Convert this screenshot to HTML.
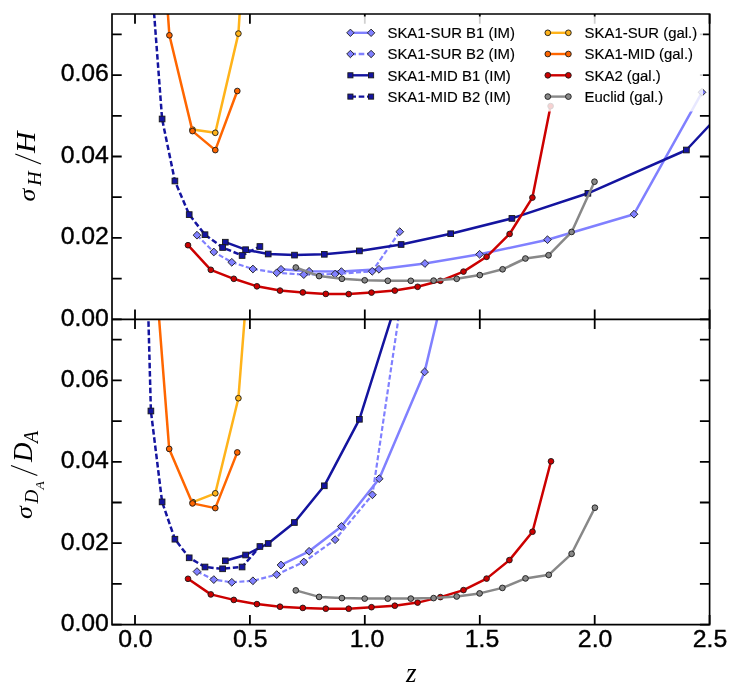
<!DOCTYPE html>
<html><head><meta charset="utf-8"><title>Chart</title>
<style>
html,body{margin:0;padding:0;background:#fff;}
body{width:747px;height:694px;overflow:hidden;font-family:"Liberation Sans",sans-serif;}
svg{display:block;will-change:transform;}
</style></head><body>
<svg width="747" height="694" viewBox="0 0 747 694">
<rect width="747" height="694" fill="#fff"/>
<defs>
<clipPath id="ct"><rect x="112.0" y="14.0" width="597.6" height="305.3"/></clipPath>
<clipPath id="cb"><rect x="112.0" y="319.3" width="597.6" height="305.3"/></clipPath>
</defs>
<g clip-path="url(#ct)">
<path d="M281.0 269.3L309.1 271.3L341.4 271.6L379.0 269.3L424.9 263.5L479.6 254.3L547.5 239.7L634.0 214.2L702.0 92.3" fill="none" stroke="#8080ff" stroke-width="2.5" stroke-linejoin="round"/>
<path d="M281.0 265.4L284.9 269.3L281.0 273.2L277.1 269.3Z" fill="#8080ff" stroke="#1a1a1a" stroke-width="0.9"/>
<path d="M309.1 267.4L313.0 271.3L309.1 275.2L305.2 271.3Z" fill="#8080ff" stroke="#1a1a1a" stroke-width="0.9"/>
<path d="M341.4 267.7L345.3 271.6L341.4 275.5L337.5 271.6Z" fill="#8080ff" stroke="#1a1a1a" stroke-width="0.9"/>
<path d="M379.0 265.4L382.9 269.3L379.0 273.2L375.1 269.3Z" fill="#8080ff" stroke="#1a1a1a" stroke-width="0.9"/>
<path d="M424.9 259.6L428.8 263.5L424.9 267.4L421.0 263.5Z" fill="#8080ff" stroke="#1a1a1a" stroke-width="0.9"/>
<path d="M479.6 250.4L483.5 254.3L479.6 258.2L475.7 254.3Z" fill="#8080ff" stroke="#1a1a1a" stroke-width="0.9"/>
<path d="M547.5 235.8L551.4 239.7L547.5 243.6L543.6 239.7Z" fill="#8080ff" stroke="#1a1a1a" stroke-width="0.9"/>
<path d="M634.0 210.3L637.9 214.2L634.0 218.1L630.1 214.2Z" fill="#8080ff" stroke="#1a1a1a" stroke-width="0.9"/>
<path d="M702.0 88.4L705.9 92.3L702.0 96.2L698.1 92.3Z" fill="#8080ff" stroke="#1a1a1a" stroke-width="0.9"/>
<path d="M197.0 235.2L213.8 252.0L231.8 262.3L252.9 269.0L276.7 272.8L303.8 274.6L335.1 274.1L372.2 271.3L399.8 231.7" fill="none" stroke="#8080ff" stroke-width="2.2" stroke-linejoin="round" stroke-dasharray="5.0 2.4"/>
<path d="M197.0 231.3L200.9 235.2L197.0 239.1L193.1 235.2Z" fill="#8080ff" stroke="#1a1a1a" stroke-width="0.9"/>
<path d="M213.8 248.1L217.7 252.0L213.8 255.9L209.9 252.0Z" fill="#8080ff" stroke="#1a1a1a" stroke-width="0.9"/>
<path d="M231.8 258.4L235.7 262.3L231.8 266.2L227.9 262.3Z" fill="#8080ff" stroke="#1a1a1a" stroke-width="0.9"/>
<path d="M252.9 265.1L256.8 269.0L252.9 272.9L249.0 269.0Z" fill="#8080ff" stroke="#1a1a1a" stroke-width="0.9"/>
<path d="M276.7 268.9L280.6 272.8L276.7 276.7L272.8 272.8Z" fill="#8080ff" stroke="#1a1a1a" stroke-width="0.9"/>
<path d="M303.8 270.7L307.7 274.6L303.8 278.5L299.9 274.6Z" fill="#8080ff" stroke="#1a1a1a" stroke-width="0.9"/>
<path d="M335.1 270.2L339.0 274.1L335.1 278.0L331.2 274.1Z" fill="#8080ff" stroke="#1a1a1a" stroke-width="0.9"/>
<path d="M372.2 267.4L376.1 271.3L372.2 275.2L368.3 271.3Z" fill="#8080ff" stroke="#1a1a1a" stroke-width="0.9"/>
<path d="M399.8 227.8L403.7 231.7L399.8 235.6L395.9 231.7Z" fill="#8080ff" stroke="#1a1a1a" stroke-width="0.9"/>
<path d="M225.3 242.2L245.6 249.7L268.2 254.0L294.5 255.1L324.3 254.3L359.4 250.9L401.1 244.5L450.7 233.7L511.9 218.4L587.9 193.3L686.4 150.0L801.5 27.0" fill="none" stroke="#14149f" stroke-width="2.5" stroke-linejoin="round"/>
<rect x="222.45" y="239.35" width="5.7" height="5.7" fill="#14149f" stroke="#1a1a1a" stroke-width="0.9"/>
<rect x="242.75" y="246.85" width="5.7" height="5.7" fill="#14149f" stroke="#1a1a1a" stroke-width="0.9"/>
<rect x="265.35" y="251.15" width="5.7" height="5.7" fill="#14149f" stroke="#1a1a1a" stroke-width="0.9"/>
<rect x="291.65" y="252.25" width="5.7" height="5.7" fill="#14149f" stroke="#1a1a1a" stroke-width="0.9"/>
<rect x="321.45" y="251.45" width="5.7" height="5.7" fill="#14149f" stroke="#1a1a1a" stroke-width="0.9"/>
<rect x="356.55" y="248.05" width="5.7" height="5.7" fill="#14149f" stroke="#1a1a1a" stroke-width="0.9"/>
<rect x="398.25" y="241.65" width="5.7" height="5.7" fill="#14149f" stroke="#1a1a1a" stroke-width="0.9"/>
<rect x="447.85" y="230.85" width="5.7" height="5.7" fill="#14149f" stroke="#1a1a1a" stroke-width="0.9"/>
<rect x="509.05" y="215.55" width="5.7" height="5.7" fill="#14149f" stroke="#1a1a1a" stroke-width="0.9"/>
<rect x="585.05" y="190.45" width="5.7" height="5.7" fill="#14149f" stroke="#1a1a1a" stroke-width="0.9"/>
<rect x="683.55" y="147.15" width="5.7" height="5.7" fill="#14149f" stroke="#1a1a1a" stroke-width="0.9"/>
<rect x="798.65" y="24.15" width="5.7" height="5.7" fill="#14149f" stroke="#1a1a1a" stroke-width="0.9"/>
<path d="M150.9 -28.7L162.1 119.0L174.9 181.0L189.2 214.6L205.0 234.7L222.6 247.5L242.1 255.5L259.9 246.5" fill="none" stroke="#14149f" stroke-width="2.5" stroke-linejoin="round" stroke-dasharray="5.6 2.7"/>
<rect x="148.05" y="-31.55" width="5.7" height="5.7" fill="#14149f" stroke="#1a1a1a" stroke-width="0.9"/>
<rect x="159.25" y="116.15" width="5.7" height="5.7" fill="#14149f" stroke="#1a1a1a" stroke-width="0.9"/>
<rect x="172.05" y="178.15" width="5.7" height="5.7" fill="#14149f" stroke="#1a1a1a" stroke-width="0.9"/>
<rect x="186.35" y="211.75" width="5.7" height="5.7" fill="#14149f" stroke="#1a1a1a" stroke-width="0.9"/>
<rect x="202.15" y="231.85" width="5.7" height="5.7" fill="#14149f" stroke="#1a1a1a" stroke-width="0.9"/>
<rect x="219.75" y="244.65" width="5.7" height="5.7" fill="#14149f" stroke="#1a1a1a" stroke-width="0.9"/>
<rect x="239.25" y="252.65" width="5.7" height="5.7" fill="#14149f" stroke="#1a1a1a" stroke-width="0.9"/>
<rect x="257.05" y="243.65" width="5.7" height="5.7" fill="#14149f" stroke="#1a1a1a" stroke-width="0.9"/>
<path d="M192.5 129.6L215.3 132.8L238.4 33.6L261.7 -339.0" fill="none" stroke="#ffb31a" stroke-width="2.5" stroke-linejoin="round"/>
<circle cx="192.5" cy="129.6" r="2.85" fill="#ffb31a" stroke="#1a1a1a" stroke-width="0.9"/>
<circle cx="215.3" cy="132.8" r="2.85" fill="#ffb31a" stroke="#1a1a1a" stroke-width="0.9"/>
<circle cx="238.4" cy="33.6" r="2.85" fill="#ffb31a" stroke="#1a1a1a" stroke-width="0.9"/>
<circle cx="261.7" cy="-339.0" r="2.85" fill="#ffb31a" stroke="#1a1a1a" stroke-width="0.9"/>
<path d="M146.9 -285.0L169.4 35.3L192.5 131.1L215.3 150.1L237.3 91.0" fill="none" stroke="#ff6600" stroke-width="2.5" stroke-linejoin="round"/>
<circle cx="146.9" cy="-285.0" r="2.85" fill="#ff6600" stroke="#1a1a1a" stroke-width="0.9"/>
<circle cx="169.4" cy="35.3" r="2.85" fill="#ff6600" stroke="#1a1a1a" stroke-width="0.9"/>
<circle cx="192.5" cy="131.1" r="2.85" fill="#ff6600" stroke="#1a1a1a" stroke-width="0.9"/>
<circle cx="215.3" cy="150.1" r="2.85" fill="#ff6600" stroke="#1a1a1a" stroke-width="0.9"/>
<circle cx="237.3" cy="91.0" r="2.85" fill="#ff6600" stroke="#1a1a1a" stroke-width="0.9"/>
<path d="M188.0 245.2L210.8 269.8L233.8 278.8L256.9 286.3L280.0 290.6L302.8 292.4L325.8 293.9L348.7 294.1L371.5 292.6L394.8 290.6L417.6 286.8L440.4 280.8L463.5 271.6L486.6 256.8L509.6 234.0L532.4 197.6L550.6 106.1" fill="none" stroke="#cc0000" stroke-width="2.5" stroke-linejoin="round"/>
<circle cx="188.0" cy="245.2" r="2.85" fill="#cc0000" stroke="#1a1a1a" stroke-width="0.9"/>
<circle cx="210.8" cy="269.8" r="2.85" fill="#cc0000" stroke="#1a1a1a" stroke-width="0.9"/>
<circle cx="233.8" cy="278.8" r="2.85" fill="#cc0000" stroke="#1a1a1a" stroke-width="0.9"/>
<circle cx="256.9" cy="286.3" r="2.85" fill="#cc0000" stroke="#1a1a1a" stroke-width="0.9"/>
<circle cx="280.0" cy="290.6" r="2.85" fill="#cc0000" stroke="#1a1a1a" stroke-width="0.9"/>
<circle cx="302.8" cy="292.4" r="2.85" fill="#cc0000" stroke="#1a1a1a" stroke-width="0.9"/>
<circle cx="325.8" cy="293.9" r="2.85" fill="#cc0000" stroke="#1a1a1a" stroke-width="0.9"/>
<circle cx="348.7" cy="294.1" r="2.85" fill="#cc0000" stroke="#1a1a1a" stroke-width="0.9"/>
<circle cx="371.5" cy="292.6" r="2.85" fill="#cc0000" stroke="#1a1a1a" stroke-width="0.9"/>
<circle cx="394.8" cy="290.6" r="2.85" fill="#cc0000" stroke="#1a1a1a" stroke-width="0.9"/>
<circle cx="417.6" cy="286.8" r="2.85" fill="#cc0000" stroke="#1a1a1a" stroke-width="0.9"/>
<circle cx="440.4" cy="280.8" r="2.85" fill="#cc0000" stroke="#1a1a1a" stroke-width="0.9"/>
<circle cx="463.5" cy="271.6" r="2.85" fill="#cc0000" stroke="#1a1a1a" stroke-width="0.9"/>
<circle cx="486.6" cy="256.8" r="2.85" fill="#cc0000" stroke="#1a1a1a" stroke-width="0.9"/>
<circle cx="509.6" cy="234.0" r="2.85" fill="#cc0000" stroke="#1a1a1a" stroke-width="0.9"/>
<circle cx="532.4" cy="197.6" r="2.85" fill="#cc0000" stroke="#1a1a1a" stroke-width="0.9"/>
<circle cx="550.6" cy="106.1" r="2.85" fill="#cc0000" stroke="#1a1a1a" stroke-width="0.9"/>
<path d="M295.8 267.5L319.1 276.1L341.9 278.8L364.7 280.3L387.8 280.8L410.8 280.8L433.6 280.6L456.7 278.8L479.8 275.1L502.6 269.3L525.4 258.5L548.5 255.3L571.6 231.9L594.5 181.7" fill="none" stroke="#888888" stroke-width="2.5" stroke-linejoin="round"/>
<circle cx="295.8" cy="267.5" r="2.85" fill="#888888" stroke="#1a1a1a" stroke-width="0.9"/>
<circle cx="319.1" cy="276.1" r="2.85" fill="#888888" stroke="#1a1a1a" stroke-width="0.9"/>
<circle cx="341.9" cy="278.8" r="2.85" fill="#888888" stroke="#1a1a1a" stroke-width="0.9"/>
<circle cx="364.7" cy="280.3" r="2.85" fill="#888888" stroke="#1a1a1a" stroke-width="0.9"/>
<circle cx="387.8" cy="280.8" r="2.85" fill="#888888" stroke="#1a1a1a" stroke-width="0.9"/>
<circle cx="410.8" cy="280.8" r="2.85" fill="#888888" stroke="#1a1a1a" stroke-width="0.9"/>
<circle cx="433.6" cy="280.6" r="2.85" fill="#888888" stroke="#1a1a1a" stroke-width="0.9"/>
<circle cx="456.7" cy="278.8" r="2.85" fill="#888888" stroke="#1a1a1a" stroke-width="0.9"/>
<circle cx="479.8" cy="275.1" r="2.85" fill="#888888" stroke="#1a1a1a" stroke-width="0.9"/>
<circle cx="502.6" cy="269.3" r="2.85" fill="#888888" stroke="#1a1a1a" stroke-width="0.9"/>
<circle cx="525.4" cy="258.5" r="2.85" fill="#888888" stroke="#1a1a1a" stroke-width="0.9"/>
<circle cx="548.5" cy="255.3" r="2.85" fill="#888888" stroke="#1a1a1a" stroke-width="0.9"/>
<circle cx="571.6" cy="231.9" r="2.85" fill="#888888" stroke="#1a1a1a" stroke-width="0.9"/>
<circle cx="594.5" cy="181.7" r="2.85" fill="#888888" stroke="#1a1a1a" stroke-width="0.9"/>
</g>
<g clip-path="url(#cb)">
<path d="M281.0 565.0L309.1 551.3L341.4 526.4L379.2 478.7L424.6 371.9L479.6 141.0" fill="none" stroke="#8080ff" stroke-width="2.5" stroke-linejoin="round"/>
<path d="M281.0 561.1L284.9 565.0L281.0 568.9L277.1 565.0Z" fill="#8080ff" stroke="#1a1a1a" stroke-width="0.9"/>
<path d="M309.1 547.4L313.0 551.3L309.1 555.2L305.2 551.3Z" fill="#8080ff" stroke="#1a1a1a" stroke-width="0.9"/>
<path d="M341.4 522.5L345.3 526.4L341.4 530.3L337.5 526.4Z" fill="#8080ff" stroke="#1a1a1a" stroke-width="0.9"/>
<path d="M379.2 474.8L383.1 478.7L379.2 482.6L375.3 478.7Z" fill="#8080ff" stroke="#1a1a1a" stroke-width="0.9"/>
<path d="M424.6 368.0L428.5 371.9L424.6 375.8L420.7 371.9Z" fill="#8080ff" stroke="#1a1a1a" stroke-width="0.9"/>
<path d="M479.6 137.1L483.5 141.0L479.6 144.9L475.7 141.0Z" fill="#8080ff" stroke="#1a1a1a" stroke-width="0.9"/>
<path d="M197.0 571.6L213.8 579.6L231.8 582.3L252.9 580.8L276.7 574.6L303.8 562.0L335.1 539.7L372.4 494.8L399.8 309.3" fill="none" stroke="#8080ff" stroke-width="2.2" stroke-linejoin="round" stroke-dasharray="5.0 2.4"/>
<path d="M197.0 567.7L200.9 571.6L197.0 575.5L193.1 571.6Z" fill="#8080ff" stroke="#1a1a1a" stroke-width="0.9"/>
<path d="M213.8 575.7L217.7 579.6L213.8 583.5L209.9 579.6Z" fill="#8080ff" stroke="#1a1a1a" stroke-width="0.9"/>
<path d="M231.8 578.4L235.7 582.3L231.8 586.2L227.9 582.3Z" fill="#8080ff" stroke="#1a1a1a" stroke-width="0.9"/>
<path d="M252.9 576.9L256.8 580.8L252.9 584.7L249.0 580.8Z" fill="#8080ff" stroke="#1a1a1a" stroke-width="0.9"/>
<path d="M276.7 570.7L280.6 574.6L276.7 578.5L272.8 574.6Z" fill="#8080ff" stroke="#1a1a1a" stroke-width="0.9"/>
<path d="M303.8 558.1L307.7 562.0L303.8 565.9L299.9 562.0Z" fill="#8080ff" stroke="#1a1a1a" stroke-width="0.9"/>
<path d="M335.1 535.8L339.0 539.7L335.1 543.6L331.2 539.7Z" fill="#8080ff" stroke="#1a1a1a" stroke-width="0.9"/>
<path d="M372.4 490.9L376.3 494.8L372.4 498.7L368.5 494.8Z" fill="#8080ff" stroke="#1a1a1a" stroke-width="0.9"/>
<path d="M399.8 305.4L403.7 309.3L399.8 313.2L395.9 309.3Z" fill="#8080ff" stroke="#1a1a1a" stroke-width="0.9"/>
<path d="M225.3 560.8L245.6 555.0L268.2 543.5L294.4 522.5L324.3 485.8L359.4 419.3L401.1 286.9" fill="none" stroke="#14149f" stroke-width="2.5" stroke-linejoin="round"/>
<rect x="222.45" y="557.95" width="5.7" height="5.7" fill="#14149f" stroke="#1a1a1a" stroke-width="0.9"/>
<rect x="242.75" y="552.15" width="5.7" height="5.7" fill="#14149f" stroke="#1a1a1a" stroke-width="0.9"/>
<rect x="265.35" y="540.65" width="5.7" height="5.7" fill="#14149f" stroke="#1a1a1a" stroke-width="0.9"/>
<rect x="291.55" y="519.65" width="5.7" height="5.7" fill="#14149f" stroke="#1a1a1a" stroke-width="0.9"/>
<rect x="321.45" y="482.95" width="5.7" height="5.7" fill="#14149f" stroke="#1a1a1a" stroke-width="0.9"/>
<rect x="356.55" y="416.45" width="5.7" height="5.7" fill="#14149f" stroke="#1a1a1a" stroke-width="0.9"/>
<rect x="398.25" y="284.05" width="5.7" height="5.7" fill="#14149f" stroke="#1a1a1a" stroke-width="0.9"/>
<path d="M146.0 230.0L150.9 411.0L162.1 501.9L174.9 539.2L189.2 557.8L205.0 567.0L222.6 568.8L242.1 567.0L259.9 546.5" fill="none" stroke="#14149f" stroke-width="2.5" stroke-linejoin="round" stroke-dasharray="5.6 2.7"/>
<rect x="143.15" y="227.15" width="5.7" height="5.7" fill="#14149f" stroke="#1a1a1a" stroke-width="0.9"/>
<rect x="148.05" y="408.15" width="5.7" height="5.7" fill="#14149f" stroke="#1a1a1a" stroke-width="0.9"/>
<rect x="159.25" y="499.05" width="5.7" height="5.7" fill="#14149f" stroke="#1a1a1a" stroke-width="0.9"/>
<rect x="172.05" y="536.35" width="5.7" height="5.7" fill="#14149f" stroke="#1a1a1a" stroke-width="0.9"/>
<rect x="186.35" y="554.95" width="5.7" height="5.7" fill="#14149f" stroke="#1a1a1a" stroke-width="0.9"/>
<rect x="202.15" y="564.15" width="5.7" height="5.7" fill="#14149f" stroke="#1a1a1a" stroke-width="0.9"/>
<rect x="219.75" y="565.95" width="5.7" height="5.7" fill="#14149f" stroke="#1a1a1a" stroke-width="0.9"/>
<rect x="239.25" y="564.15" width="5.7" height="5.7" fill="#14149f" stroke="#1a1a1a" stroke-width="0.9"/>
<rect x="257.05" y="543.65" width="5.7" height="5.7" fill="#14149f" stroke="#1a1a1a" stroke-width="0.9"/>
<path d="M192.8 502.1L215.3 493.3L238.4 398.2L261.7 100.0" fill="none" stroke="#ffb31a" stroke-width="2.5" stroke-linejoin="round"/>
<circle cx="192.8" cy="502.1" r="2.85" fill="#ffb31a" stroke="#1a1a1a" stroke-width="0.9"/>
<circle cx="215.3" cy="493.3" r="2.85" fill="#ffb31a" stroke="#1a1a1a" stroke-width="0.9"/>
<circle cx="238.4" cy="398.2" r="2.85" fill="#ffb31a" stroke="#1a1a1a" stroke-width="0.9"/>
<circle cx="261.7" cy="100.0" r="2.85" fill="#ffb31a" stroke="#1a1a1a" stroke-width="0.9"/>
<path d="M146.9 162.0L169.2 448.9L192.5 503.4L215.3 508.1L237.3 452.4" fill="none" stroke="#ff6600" stroke-width="2.5" stroke-linejoin="round"/>
<circle cx="146.9" cy="162.0" r="2.85" fill="#ff6600" stroke="#1a1a1a" stroke-width="0.9"/>
<circle cx="169.2" cy="448.9" r="2.85" fill="#ff6600" stroke="#1a1a1a" stroke-width="0.9"/>
<circle cx="192.5" cy="503.4" r="2.85" fill="#ff6600" stroke="#1a1a1a" stroke-width="0.9"/>
<circle cx="215.3" cy="508.1" r="2.85" fill="#ff6600" stroke="#1a1a1a" stroke-width="0.9"/>
<circle cx="237.3" cy="452.4" r="2.85" fill="#ff6600" stroke="#1a1a1a" stroke-width="0.9"/>
<path d="M188.0 578.8L210.8 594.4L233.8 599.9L256.9 604.1L280.0 606.7L302.8 607.9L325.8 608.7L348.7 608.7L371.5 607.2L394.8 605.7L417.6 602.6L440.4 597.1L463.5 590.1L486.6 578.6L509.4 560.1L532.5 531.7L551.0 461.3" fill="none" stroke="#cc0000" stroke-width="2.5" stroke-linejoin="round"/>
<circle cx="188.0" cy="578.8" r="2.85" fill="#cc0000" stroke="#1a1a1a" stroke-width="0.9"/>
<circle cx="210.8" cy="594.4" r="2.85" fill="#cc0000" stroke="#1a1a1a" stroke-width="0.9"/>
<circle cx="233.8" cy="599.9" r="2.85" fill="#cc0000" stroke="#1a1a1a" stroke-width="0.9"/>
<circle cx="256.9" cy="604.1" r="2.85" fill="#cc0000" stroke="#1a1a1a" stroke-width="0.9"/>
<circle cx="280.0" cy="606.7" r="2.85" fill="#cc0000" stroke="#1a1a1a" stroke-width="0.9"/>
<circle cx="302.8" cy="607.9" r="2.85" fill="#cc0000" stroke="#1a1a1a" stroke-width="0.9"/>
<circle cx="325.8" cy="608.7" r="2.85" fill="#cc0000" stroke="#1a1a1a" stroke-width="0.9"/>
<circle cx="348.7" cy="608.7" r="2.85" fill="#cc0000" stroke="#1a1a1a" stroke-width="0.9"/>
<circle cx="371.5" cy="607.2" r="2.85" fill="#cc0000" stroke="#1a1a1a" stroke-width="0.9"/>
<circle cx="394.8" cy="605.7" r="2.85" fill="#cc0000" stroke="#1a1a1a" stroke-width="0.9"/>
<circle cx="417.6" cy="602.6" r="2.85" fill="#cc0000" stroke="#1a1a1a" stroke-width="0.9"/>
<circle cx="440.4" cy="597.1" r="2.85" fill="#cc0000" stroke="#1a1a1a" stroke-width="0.9"/>
<circle cx="463.5" cy="590.1" r="2.85" fill="#cc0000" stroke="#1a1a1a" stroke-width="0.9"/>
<circle cx="486.6" cy="578.6" r="2.85" fill="#cc0000" stroke="#1a1a1a" stroke-width="0.9"/>
<circle cx="509.4" cy="560.1" r="2.85" fill="#cc0000" stroke="#1a1a1a" stroke-width="0.9"/>
<circle cx="532.5" cy="531.7" r="2.85" fill="#cc0000" stroke="#1a1a1a" stroke-width="0.9"/>
<circle cx="551.0" cy="461.3" r="2.85" fill="#cc0000" stroke="#1a1a1a" stroke-width="0.9"/>
<path d="M295.8 590.4L319.1 596.9L341.9 598.1L364.7 598.6L387.8 598.6L410.8 598.6L433.6 598.1L456.7 596.5L479.6 593.4L502.4 587.9L525.5 578.4L548.8 574.8L571.6 553.8L594.9 507.7" fill="none" stroke="#888888" stroke-width="2.5" stroke-linejoin="round"/>
<circle cx="295.8" cy="590.4" r="2.85" fill="#888888" stroke="#1a1a1a" stroke-width="0.9"/>
<circle cx="319.1" cy="596.9" r="2.85" fill="#888888" stroke="#1a1a1a" stroke-width="0.9"/>
<circle cx="341.9" cy="598.1" r="2.85" fill="#888888" stroke="#1a1a1a" stroke-width="0.9"/>
<circle cx="364.7" cy="598.6" r="2.85" fill="#888888" stroke="#1a1a1a" stroke-width="0.9"/>
<circle cx="387.8" cy="598.6" r="2.85" fill="#888888" stroke="#1a1a1a" stroke-width="0.9"/>
<circle cx="410.8" cy="598.6" r="2.85" fill="#888888" stroke="#1a1a1a" stroke-width="0.9"/>
<circle cx="433.6" cy="598.1" r="2.85" fill="#888888" stroke="#1a1a1a" stroke-width="0.9"/>
<circle cx="456.7" cy="596.5" r="2.85" fill="#888888" stroke="#1a1a1a" stroke-width="0.9"/>
<circle cx="479.6" cy="593.4" r="2.85" fill="#888888" stroke="#1a1a1a" stroke-width="0.9"/>
<circle cx="502.4" cy="587.9" r="2.85" fill="#888888" stroke="#1a1a1a" stroke-width="0.9"/>
<circle cx="525.5" cy="578.4" r="2.85" fill="#888888" stroke="#1a1a1a" stroke-width="0.9"/>
<circle cx="548.8" cy="574.8" r="2.85" fill="#888888" stroke="#1a1a1a" stroke-width="0.9"/>
<circle cx="571.6" cy="553.8" r="2.85" fill="#888888" stroke="#1a1a1a" stroke-width="0.9"/>
<circle cx="594.9" cy="507.7" r="2.85" fill="#888888" stroke="#1a1a1a" stroke-width="0.9"/>
</g>
<path d="M135.0 14.0v9.7M135.0 309.6v19.4M135.0 624.6v-9.7M249.9 14.0v9.7M249.9 309.6v19.4M249.9 624.6v-9.7M364.8 14.0v9.7M364.8 309.6v19.4M364.8 624.6v-9.7M479.8 14.0v9.7M479.8 309.6v19.4M479.8 624.6v-9.7M594.7 14.0v9.7M594.7 309.6v19.4M594.7 624.6v-9.7M709.6 14.0v9.7M709.6 309.6v19.4M709.6 624.6v-9.7M112.0 319.3h9.7M709.6 319.3h-9.7M112.0 624.6h9.7M709.6 624.6h-9.7M112.0 278.6h9.7M709.6 278.6h-9.7M112.0 583.9h9.7M709.6 583.9h-9.7M112.0 237.9h9.7M709.6 237.9h-9.7M112.0 543.2h9.7M709.6 543.2h-9.7M112.0 197.2h9.7M709.6 197.2h-9.7M112.0 502.5h9.7M709.6 502.5h-9.7M112.0 156.5h9.7M709.6 156.5h-9.7M112.0 461.8h9.7M709.6 461.8h-9.7M112.0 115.8h9.7M709.6 115.8h-9.7M112.0 421.1h9.7M709.6 421.1h-9.7M112.0 75.1h9.7M709.6 75.1h-9.7M112.0 380.4h9.7M709.6 380.4h-9.7M112.0 34.4h9.7M709.6 34.4h-9.7M112.0 339.7h9.7M709.6 339.7h-9.7" stroke="#000" stroke-width="1.8" fill="none"/>
<rect x="340" y="16.5" width="363" height="95.0" fill="#fff" fill-opacity="0.82"/>
<path d="M350.4 32.8H371.1" stroke="#8080ff" stroke-width="2.4" fill="none"/>
<path d="M350.4 29.1L354.1 32.8L350.4 36.5L346.7 32.8Z" fill="#8080ff" stroke="#1a1a1a" stroke-width="0.9"/>
<path d="M371.1 29.1L374.8 32.8L371.1 36.5L367.4 32.8Z" fill="#8080ff" stroke="#1a1a1a" stroke-width="0.9"/>
<text x="387.5" y="38.2" font-family="'Liberation Sans', sans-serif" font-size="14.9" fill="#000" stroke="#000" stroke-width="0.15">SKA1-SUR B1 (IM)</text>
<path d="M350.4 54.0H371.1" stroke="#8080ff" stroke-width="2.4" fill="none" stroke-dasharray="5.6 2.7"/>
<path d="M350.4 50.3L354.1 54.0L350.4 57.7L346.7 54.0Z" fill="#8080ff" stroke="#1a1a1a" stroke-width="0.9"/>
<path d="M371.1 50.3L374.8 54.0L371.1 57.7L367.4 54.0Z" fill="#8080ff" stroke="#1a1a1a" stroke-width="0.9"/>
<text x="387.5" y="59.4" font-family="'Liberation Sans', sans-serif" font-size="14.9" fill="#000" stroke="#000" stroke-width="0.15">SKA1-SUR B2 (IM)</text>
<path d="M350.4 75.3H371.1" stroke="#14149f" stroke-width="2.4" fill="none"/>
<rect x="347.85" y="72.75" width="5.1" height="5.1" fill="#14149f" stroke="#1a1a1a" stroke-width="0.9"/>
<rect x="368.55" y="72.75" width="5.1" height="5.1" fill="#14149f" stroke="#1a1a1a" stroke-width="0.9"/>
<text x="387.5" y="80.7" font-family="'Liberation Sans', sans-serif" font-size="14.9" fill="#000" stroke="#000" stroke-width="0.15">SKA1-MID B1 (IM)</text>
<path d="M350.4 96.6H371.1" stroke="#14149f" stroke-width="2.4" fill="none" stroke-dasharray="5.6 2.7"/>
<rect x="347.85" y="94.05" width="5.1" height="5.1" fill="#14149f" stroke="#1a1a1a" stroke-width="0.9"/>
<rect x="368.55" y="94.05" width="5.1" height="5.1" fill="#14149f" stroke="#1a1a1a" stroke-width="0.9"/>
<text x="387.5" y="102.0" font-family="'Liberation Sans', sans-serif" font-size="14.9" fill="#000" stroke="#000" stroke-width="0.15">SKA1-MID B2 (IM)</text>
<path d="M547.8 32.8H568.4" stroke="#ffb31a" stroke-width="2.4" fill="none"/>
<circle cx="547.8" cy="32.8" r="2.85" fill="#ffb31a" stroke="#1a1a1a" stroke-width="0.9"/>
<circle cx="568.4" cy="32.8" r="2.85" fill="#ffb31a" stroke="#1a1a1a" stroke-width="0.9"/>
<text x="584.6" y="38.2" font-family="'Liberation Sans', sans-serif" font-size="14.9" fill="#000" stroke="#000" stroke-width="0.15">SKA1-SUR (gal.)</text>
<path d="M547.8 54.0H568.4" stroke="#ff6600" stroke-width="2.4" fill="none"/>
<circle cx="547.8" cy="54.0" r="2.85" fill="#ff6600" stroke="#1a1a1a" stroke-width="0.9"/>
<circle cx="568.4" cy="54.0" r="2.85" fill="#ff6600" stroke="#1a1a1a" stroke-width="0.9"/>
<text x="584.6" y="59.4" font-family="'Liberation Sans', sans-serif" font-size="14.9" fill="#000" stroke="#000" stroke-width="0.15">SKA1-MID (gal.)</text>
<path d="M547.8 75.3H568.4" stroke="#cc0000" stroke-width="2.4" fill="none"/>
<circle cx="547.8" cy="75.3" r="2.85" fill="#cc0000" stroke="#1a1a1a" stroke-width="0.9"/>
<circle cx="568.4" cy="75.3" r="2.85" fill="#cc0000" stroke="#1a1a1a" stroke-width="0.9"/>
<text x="584.6" y="80.7" font-family="'Liberation Sans', sans-serif" font-size="14.9" fill="#000" stroke="#000" stroke-width="0.15">SKA2 (gal.)</text>
<path d="M547.8 96.6H568.4" stroke="#888888" stroke-width="2.4" fill="none"/>
<circle cx="547.8" cy="96.6" r="2.85" fill="#888888" stroke="#1a1a1a" stroke-width="0.9"/>
<circle cx="568.4" cy="96.6" r="2.85" fill="#888888" stroke="#1a1a1a" stroke-width="0.9"/>
<text x="584.6" y="102.0" font-family="'Liberation Sans', sans-serif" font-size="14.9" fill="#000" stroke="#000" stroke-width="0.15">Euclid (gal.)</text>
<path d="M112.0 14.0H709.6V624.6H112.0Z M112.0 319.3H709.6" stroke="#000" stroke-width="1.67" fill="none" stroke-linejoin="miter"/>
<g font-family="'Liberation Sans', sans-serif" font-size="24.8" fill="#000" stroke="#000" stroke-width="0.4"><text x="135.4" y="647.0" text-anchor="middle">0.0</text>
<text x="250.3" y="647.0" text-anchor="middle">0.5</text>
<text x="367.0" y="647.0" text-anchor="middle">1.0</text>
<text x="482.0" y="647.0" text-anchor="middle">1.5</text>
<text x="595.1" y="647.0" text-anchor="middle">2.0</text>
<text x="710.0" y="647.0" text-anchor="middle">2.5</text>
<text x="108.9" y="325.6" text-anchor="end">0.00</text>
<text x="108.9" y="244.2" text-anchor="end">0.02</text>
<text x="108.9" y="162.8" text-anchor="end">0.04</text>
<text x="108.9" y="81.4" text-anchor="end">0.06</text>
<text x="108.9" y="630.9" text-anchor="end">0.00</text>
<text x="108.9" y="549.5" text-anchor="end">0.02</text>
<text x="108.9" y="468.1" text-anchor="end">0.04</text>
<text x="108.9" y="386.7" text-anchor="end">0.06</text></g>
<g transform="translate(35.3 201.5) rotate(-90)" font-family="'Liberation Serif', serif" font-style="italic" fill="#000">
<text transform="scale(1.1 1)" x="0" y="0" font-size="23.5">σ</text>
<text x="15.8" y="5.7" font-size="19" transform="translate(15.8 0) scale(1.05 1) translate(-15.8 0)">H</text>
<path d="M37.5 5.7L47.5 -20" stroke="#000" stroke-width="1.1" fill="none"/>
<text x="0" y="0" font-size="27" transform="translate(48.5 0) scale(1.1 1)">H</text>
</g>
<g transform="translate(31.6 519) rotate(-90)" font-family="'Liberation Serif', serif" font-style="italic" fill="#000">
<text transform="scale(1.1 1)" x="0" y="0" font-size="23.5">σ</text>
<text x="15.5" y="6.5" font-size="19">D</text>
<text x="29.5" y="12.2" font-size="13.5">A</text>
<path d="M43.5 5.7L53.5 -20.6" stroke="#000" stroke-width="1.1" fill="none"/>
<text x="57" y="0" font-size="27">D</text>
<text x="76" y="6.5" font-size="20">A</text>
</g>
<text x="411.2" y="682.2" text-anchor="middle" font-size="27" font-family="'Liberation Serif', serif" font-style="italic" fill="#000">z</text>
</svg>
</body></html>
